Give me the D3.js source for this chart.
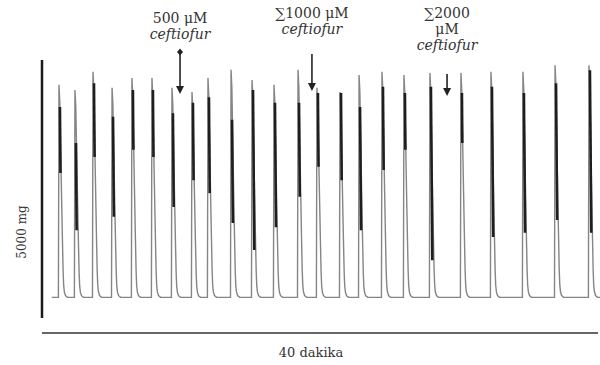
<!DOCTYPE html>
<html>
<head>
<meta charset="utf-8">
<script src="https://cdn.jsdelivr.net/npm/d3@7"></script>
<style>
  body { margin: 0; background: #fff; }
  text { font-family: "DejaVu Serif", "Liberation Serif", serif; fill: #333; }
</style>
</head>
<body>
<div id="chart"></div>
<script>
// contraction peaks (minutes, mg)
const peakTimes = [1.22, 2.37, 3.67, 5.04, 6.47, 7.91, 9.35, 10.79, 11.94, 13.60, 15.11, 16.69,
                   18.42, 19.78, 21.44, 22.81, 24.46, 26.04, 27.91, 30.14, 32.30, 34.60, 36.91, 39.35];
const peakForce = [4520, 4420, 4770, 4460, 4650, 4650, 4460, 4380, 4650, 4810, 4610, 4520,
                   4810, 4460, 4380, 4710, 4770, 4710, 4750, 4750, 4770, 4770, 4900, 4900];
// dark (dense) part of each contraction
const darkTop    = [4090, 3390, 4550, 3900, 4420, 4420, 3970, 4170, 4280, 3840, 4420, 4170,
                    4170, 4360, 4360, 4090, 4480, 4360, 4480, 4360, 4480, 4360, 4550, 4800];
const darkBottom = [2810, 1700, 3120, 1960, 3260, 3120, 2150, 2670, 2420, 1840, 1320, 1760,
                    2350, 2930, 2670, 1700, 2870, 3260, 1120, 3390, 1570, 1650, 1900, 1650];
const baselineForce = 400;
const traceStart = 0.7;
// shape of one contraction: [minutes after onset, fraction of peak above baseline]
const peakShape = [[-0.04, 0], [0, 1], [0.06, 0.92], [0.15, 0.6], [0.24, 0.3], [0.3, 0.12],
                   [0.34, 0.055], [0.39, 0.025], [0.47, 0.008], [0.62, 0]];

const doses = [
  {t: 9.93, lines: ["500 μM", "ceftiofur"], y0: 23, top: 52, tip: 94, diamond: true},
  {t: 19.42, lines: ["∑1000 μM", "ceftiofur"], y0: 18, top: 54, tip: 91, diamond: false},
  {t: 29.14, lines: ["∑2000", "μM", "ceftiofur"], y0: 18, top: 74, tip: 96, diamond: false}
];

const width = 600, height = 365;
const svg = d3.select("#chart").append("svg")
    .attr("width", width)
    .attr("height", height);

const x = d3.scaleLinear().domain([0, 40]).range([42, 598]);
const y = d3.scaleLinear().domain([0, 5000]).range([318, 60]);

// build trace
const pts = [[traceStart, baselineForce]];
peakTimes.forEach((t0, i) => {
  const amp = peakForce[i] - baselineForce;
  peakShape.forEach(([dt, f]) => pts.push([t0 + dt, baselineForce + f * amp]));
});
pts.push([40.3, baselineForce]);

const line = d3.line().x(d => x(d[0])).y(d => y(d[1]));

svg.append("path")
    .datum(pts)
    .attr("d", line)
    .attr("fill", "none")
    .attr("stroke", "#858585")
    .attr("stroke-width", 1.4);

// dense dark bands
svg.append("g").selectAll("line")
  .data(peakTimes)
  .join("line")
    .attr("x1", d => x(d + 0.07))
    .attr("x2", (d, i) => x(d + 0.07 + (darkTop[i] - darkBottom[i]) * 0.00003))
    .attr("y1", (d, i) => y(darkTop[i]))
    .attr("y2", (d, i) => y(darkBottom[i]))
    .attr("stroke", "#1e1e1e")
    .attr("stroke-width", 2.6);

// scale bars
svg.append("line")
    .attr("x1", x(0)).attr("x2", x(0))
    .attr("y1", y(5000)).attr("y2", y(0))
    .attr("stroke", "#1a1a1a").attr("stroke-width", 2.5);

svg.append("line")
    .attr("x1", x(0)).attr("x2", x(40))
    .attr("y1", 333).attr("y2", 333)
    .attr("stroke", "#333").attr("stroke-width", 1.3);

svg.append("text")
    .attr("transform", `translate(26,232) rotate(-90)`)
    .attr("text-anchor", "middle")
    .attr("font-size", 12)
    .text("5000 mg");

svg.append("text")
    .attr("x", 311).attr("y", 357)
    .attr("text-anchor", "middle")
    .attr("font-size", 13)
    .text("40 dakika");

// dose arrows
doses.forEach(d => {
  const cx = x(d.t);
  const g = svg.append("g");
  d.lines.forEach((s, i) => {
    g.append("text")
      .attr("x", cx).attr("y", d.y0 + i * 16)
      .attr("text-anchor", "middle")
      .attr("font-size", 14)
      .attr("font-style", s === "ceftiofur" ? "italic" : "normal")
      .text(s);
  });
  g.append("line")
    .attr("x1", cx).attr("x2", cx)
    .attr("y1", d.top).attr("y2", d.tip - 4)
    .attr("stroke", "#222").attr("stroke-width", 1.6);
  g.append("path")
    .attr("d", `M${cx - 4},${d.tip - 8} L${cx + 4},${d.tip - 8} L${cx},${d.tip} Z`)
    .attr("fill", "#222");
  if (d.diamond) {
    g.append("path")
      .attr("d", `M${cx},${d.top - 3.5} L${cx + 3},${d.top} L${cx},${d.top + 3.5} L${cx - 3},${d.top} Z`)
      .attr("fill", "#222");
  }
});
</script>
</body>
</html>
